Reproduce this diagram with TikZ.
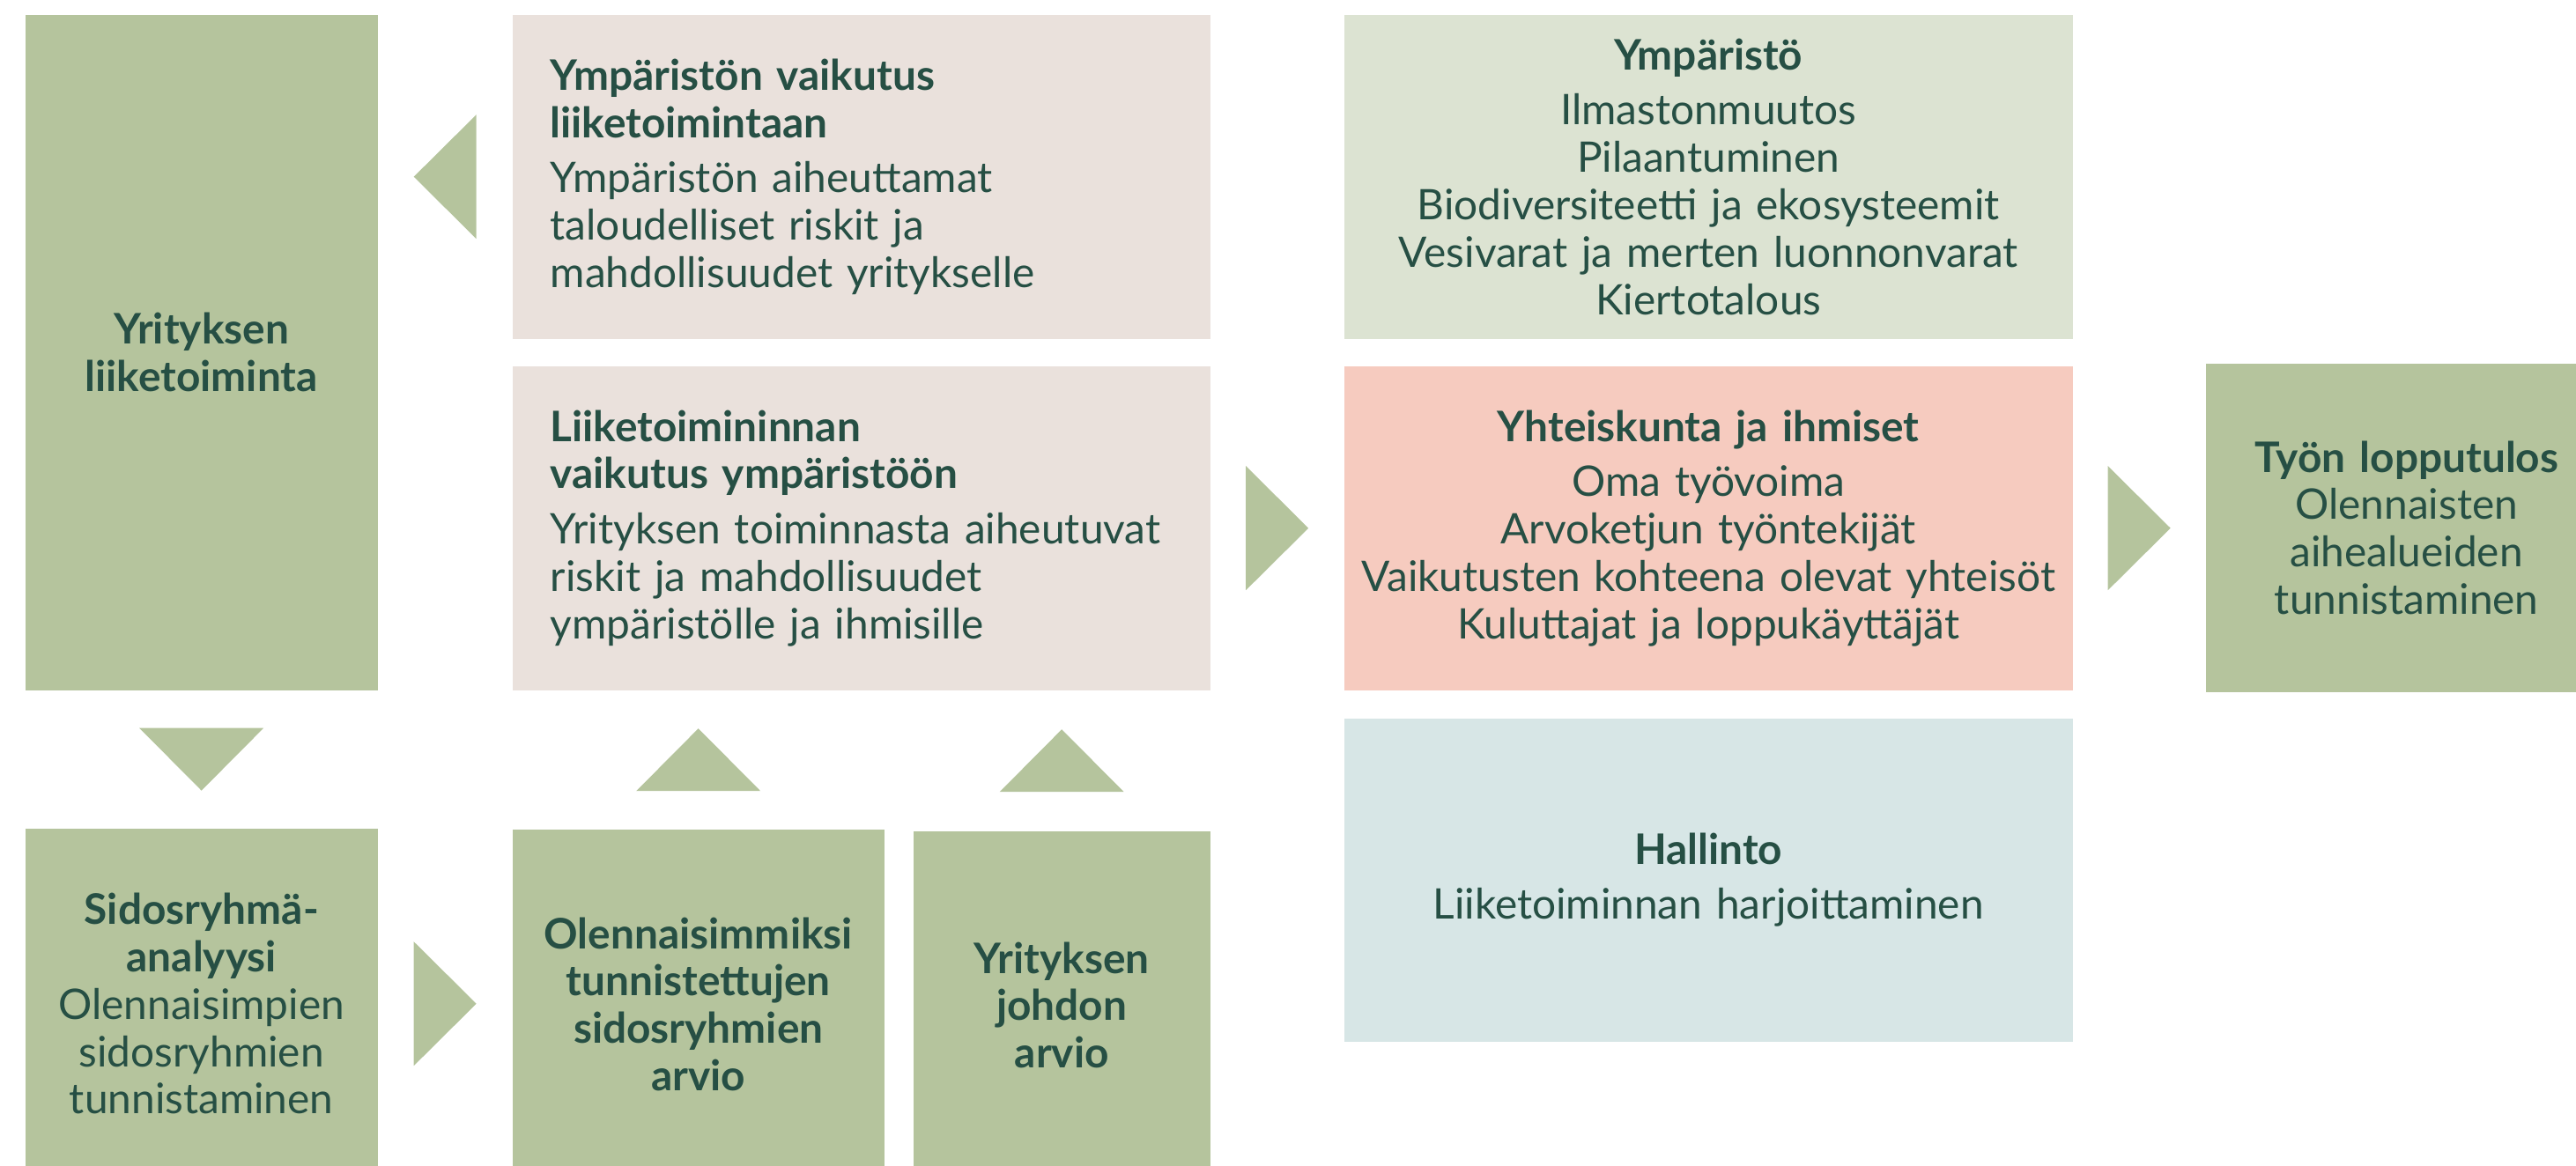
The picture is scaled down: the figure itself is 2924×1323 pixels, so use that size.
\documentclass[tikz,border=0pt]{standalone}
\usepackage{fontspec}
\setmainfont{Lato}
\usetikzlibrary{calc}

\definecolor{leaf}{HTML}{B5C49D}
\definecolor{sand}{HTML}{EAE1DC}
\definecolor{sage}{HTML}{DCE3D2}
\definecolor{salmon}{HTML}{F6CBBF}
\definecolor{mist}{HTML}{D7E6E6}
\definecolor{ink}{HTML}{264F44}

\newcommand{\panelfont}{\fontsize{13.6}{15.3}\selectfont}
\newcommand{\pointer}[2]{\fill[leaf, shift={#1}, rotate=#2] (-35.5,-70.5) -- (35.5,0) -- (-35.5,70.5) -- cycle;}

\tikzset{
  panel/.style={anchor=north west, inner ysep=0pt, text=ink, font=\panelfont},
  centred/.style={panel, inner xsep=0pt, align=center},
  flushed/.style={panel, inner xsep=4.3mm, align=left},
}

\begin{document}
\begin{tikzpicture}[x=0.1mm, y=-0.1mm]
  \clip (0,0) rectangle (2924,1323);

  % Left column
  \node[centred, fill=leaf, text width=40mm, minimum height=76.7mm] (firm) at (28,16)
    {\textbf{Yrityksen}\\ \textbf{liiketoiminta}};
  \node[centred, fill=leaf, text width=40mm, minimum height=39.8mm] (stake) at (28,940)
    {\textbf{Sidosryhmä-}\\ \textbf{analyysi}\\ Olennaisimpien\\ sidosryhmien\\ tunnistaminen};

  % Impact boxes
  \node[flushed, fill=sand, text width=70.6mm, minimum height=36.8mm] (envimpact) at (581,16)
    {\textbf{Ympäristön vaikutus}\\ \textbf{liiketoimintaan}\\[2.5pt] Ympäristön aiheuttamat\\ taloudelliset riskit ja\\ mahdollisuudet yritykselle};
  \node[flushed, fill=sand, text width=70.6mm, minimum height=36.8mm] (bizimpact) at (581,415)
    {\textbf{Liiketoimininnan}\\ \textbf{vaikutus ympäristöön}\\[2.5pt] Yrityksen toiminnasta aiheutuvat\\ riskit ja mahdollisuudet\\ ympäristölle ja ihmisille};

  % Assessments
  \node[centred, fill=leaf, text width=42.2mm, minimum height=39.7mm] (material) at (581,941)
    {\textbf{Olennaisimmiksi}\\ \textbf{tunnistettujen}\\ \textbf{sidosryhmien}\\ \textbf{arvio}};
  \node[centred, fill=leaf, text width=33.7mm, minimum height=39.5mm] (board) at (1036,943)
    {\textbf{Yrityksen}\\ \textbf{johdon}\\ \textbf{arvio}};

  % Topics
  \node[centred, fill=sage, text width=82.7mm, minimum height=36.8mm] (nature) at (1525,16)
    {\textbf{Ympäristö}\\[2.5pt] Ilmastonmuutos\\ Pilaantuminen\\ Biodiversiteetti ja ekosysteemit\\ Vesivarat ja merten luonnonvarat\\ Kiertotalous};
  \node[centred, fill=salmon, text width=82.7mm, minimum height=36.8mm] (society) at (1525,415)
    {\textbf{Yhteiskunta ja ihmiset}\\[2.5pt] Oma työvoima\\ Arvoketjun työntekijät\\ Vaikutusten kohteena olevat yhteisöt\\ Kuluttajat ja loppukäyttäjät};
  \node[centred, fill=mist, text width=82.7mm, minimum height=36.7mm] (governance) at (1525,815)
    {\textbf{Hallinto}\\[2.5pt] Liiketoiminnan harjoittaminen};

  % Outcome
  \node[centred, fill=leaf, text width=45.6mm, minimum height=37.3mm] (result) at (2503,412)
    {\textbf{Työn lopputulos}\\ Olennaisten\\ aihealueiden\\ tunnistaminen};

  % Pointers
  \pointer{($(firm.east |- envimpact.west)!0.5!(envimpact.west)$)}{180}
  \pointer{($(bizimpact.east)!0.5!(society.west)$)}{0}
  \pointer{($(society.east)!0.5!(society.east -| result.west)$)}{0}
  \pointer{($(firm.south)!0.5!(firm.south |- stake.north)$)}{270}
  \pointer{($(bizimpact.south -| material.north)!0.5!(material.north)$)}{90}
  \pointer{($(bizimpact.south -| board.north)!0.5!(board.north)$)}{90}
  \pointer{($(stake.east)!0.5!(stake.east -| material.west)$)}{0}
\end{tikzpicture}
\end{document}
